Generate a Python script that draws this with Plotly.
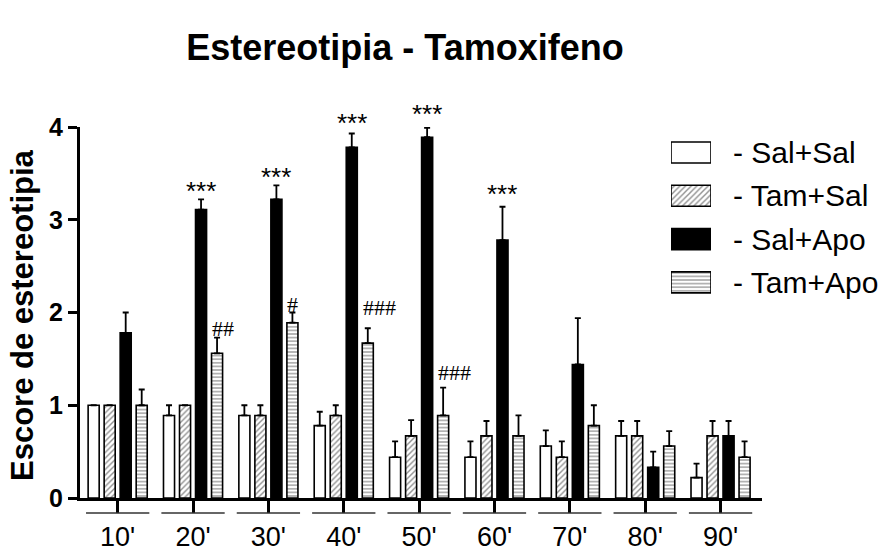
import plotly.graph_objects as go

# ---------------- data ----------------
times = ["10'", "20'", "30'", "40'", "50'", "60'", "70'", "80'", "90'"]

sal_sal = [1.00, 0.89, 0.89, 0.78, 0.44, 0.44, 0.56, 0.67, 0.22]
sal_sal_sem = [0.00, 0.11, 0.11, 0.15, 0.17, 0.17, 0.17, 0.16, 0.15]

tam_sal = [1.00, 1.00, 0.89, 0.89, 0.67, 0.67, 0.44, 0.67, 0.67]
tam_sal_sem = [0.00, 0.00, 0.11, 0.11, 0.17, 0.16, 0.17, 0.16, 0.16]

sal_apo = [1.78, 3.11, 3.22, 3.78, 3.89, 2.78, 1.44, 0.33, 0.67]
sal_apo_sem = [0.22, 0.11, 0.15, 0.15, 0.10, 0.36, 0.50, 0.17, 0.16]

tam_apo = [1.00, 1.56, 1.89, 1.67, 0.89, 0.67, 0.78, 0.56, 0.44]
tam_apo_sem = [0.17, 0.17, 0.11, 0.16, 0.30, 0.22, 0.22, 0.16, 0.17]

sal_apo_sig = ["", "***", "***", "***", "***", "***", "", "", ""]
tam_apo_sig = ["", "##", "#", "###", "###", "", "", "", ""]

series_names = ["Sal+Sal", "Tam+Sal", "Sal+Apo", "Tam+Apo"]

# ---------------- layout constants ----------------
W, H = 884, 552
ML, MR, MT, MB = 80, 0, 127, 54
PW = W - ML - MR
PH = H - MT - MB
SANS = "Liberation Sans, Arial, sans-serif"
SERIF = "Liberation Serif, Times New Roman, serif"

styles = [
    dict(color="white", pattern=None),
    dict(color="white", pattern=dict(shape="/", fgcolor="#222", bgcolor="white", size=4, solidity=0.35)),
    dict(color="black", pattern=None),
    dict(color="white", pattern=dict(shape="-", fgcolor="#222", bgcolor="white", size=3.6, solidity=0.35)),
]

def marker(i):
    m = dict(color=styles[i]["color"], line=dict(color="black", width=1.6))
    if styles[i]["pattern"]:
        m["pattern"] = styles[i]["pattern"]
    return m

fig = go.Figure()

values = [sal_sal, tam_sal, sal_apo, tam_apo]
sems = [sal_sal_sem, tam_sal_sem, sal_apo_sem, tam_apo_sem]

for i in range(4):
    fig.add_trace(go.Bar(
        x=times, y=values[i], name=series_names[i],
        marker=marker(i), showlegend=False,
        error_y=dict(type="data", symmetric=False, array=sems[i],
                     arrayminus=[0] * len(times), color="black",
                     thickness=1.8, width=3),
        xaxis="x", yaxis="y",
    ))

# ---------- custom legend (swatches on hidden axis) ----------
leg_top_px = 142
leg_pitch = 43.3
sw_h = 21
for i in range(4):
    top = leg_top_px + i * leg_pitch
    fig.add_trace(go.Bar(
        x=[0.5], y=[sw_h], base=[MT + PH - (top + sw_h)],
        width=[1], offsetgroup="leg", marker=marker(i),
        showlegend=False, hoverinfo="skip",
        xaxis="x2", yaxis="y2",
    ))
    fig.add_annotation(
        xref="paper", yref="paper",
        x=(732 - ML) / PW, y=(MT + PH - (top + sw_h / 2)) / PH,
        text="- " + series_names[i], showarrow=False,
        xanchor="left", yanchor="middle", borderpad=0,
        font=dict(family=SANS, size=30, color="black"),
    )

# ---------- significance marks ----------
bar_pitch_px = 16
star_gap = [0, 9, 9, 11, 15, 14, 0, 0, 0]
hash_gap = [0, 9, 8, 21, 15, 0, 0, 0, 0]
for k, t in enumerate(times):
    if sal_apo_sig[k]:
        fig.add_annotation(
            x=t, y=sal_apo[k] + sal_apo_sem[k], xref="x", yref="y",
            text=sal_apo_sig[k], showarrow=False,
            xanchor="center", yanchor="middle",
            xshift=0.5 * bar_pitch_px, yshift=star_gap[k] - 1,
            font=dict(family=SANS, size=26, color="black"),
        )
    if tam_apo_sig[k]:
        fig.add_annotation(
            x=t, y=tam_apo[k] + tam_apo_sem[k], xref="x", yref="y",
            text=tam_apo_sig[k], showarrow=False,
            xanchor="left", yanchor="middle",
            xshift=1.5 * bar_pitch_px - 7, yshift=hash_gap[k],
            font=dict(family=SERIF, size=22, color="black"),
        )

# ---------- underlines below category ticks ----------
for k in range(len(times)):
    fig.add_shape(type="line", xref="x", yref="paper",
                  x0=k - 0.42, x1=k + 0.42,
                  y0=-15 / PH, y1=-15 / PH,
                  line=dict(color="#333", width=1.5))

# ---------- y axis title & main title ----------
fig.add_annotation(
    xref="paper", yref="paper", x=(22 - ML) / PW, y=(MT + PH - 315) / PH,
    text="Escore de estereotipia", textangle=-90, showarrow=False,
    xanchor="center", yanchor="middle",
    font=dict(family=SANS, size=31, color="black", weight="bold"),
)

x_end = (762 - ML) / PW
fig.update_layout(
    width=W, height=H,
    margin=dict(l=ML, r=MR, t=MT, b=MB, autoexpand=False),
    paper_bgcolor="white", plot_bgcolor="rgba(0,0,0,0)",
    barmode="group", bargap=0.15, bargroupgap=0.31,
    title=dict(text="Estereotipia - Tamoxifeno", x=(405 - ML) / PW, xref="paper",
               xanchor="center", y=1 - 47 / H, yanchor="middle",
               font=dict(family=SANS, size=36, color="black", weight="bold")),
    xaxis=dict(domain=[0, x_end], type="category", categoryorder="array",
               categoryarray=times, range=[-0.5, 8.55],
               showline=True, linecolor="black", linewidth=3,
               ticks="outside", ticklen=12, tickwidth=3, tickcolor="black",
               ticklabelstandoff=1, automargin=False,
               tickfont=dict(family=SANS, size=27, color="black"),
               showgrid=False, zeroline=False, anchor="y"),
    yaxis=dict(range=[0, 4], tickvals=[0, 1, 2, 3, 4], automargin=False,
               showline=True, linecolor="black", linewidth=3,
               ticks="outside", ticklen=9, tickwidth=3, tickcolor="black",
               tickfont=dict(family=SANS, size=25, color="black", weight="bold"),
               showgrid=False, zeroline=False, anchor="x"),
    xaxis2=dict(domain=[(671 - ML) / PW, (711 - ML) / PW], range=[0, 1],
                visible=False, anchor="y2", fixedrange=True),
    yaxis2=dict(domain=[0, 1], range=[0, PH], visible=False,
                anchor="x2", fixedrange=True),
    showlegend=False,
)

fig.write_html("out.html")
